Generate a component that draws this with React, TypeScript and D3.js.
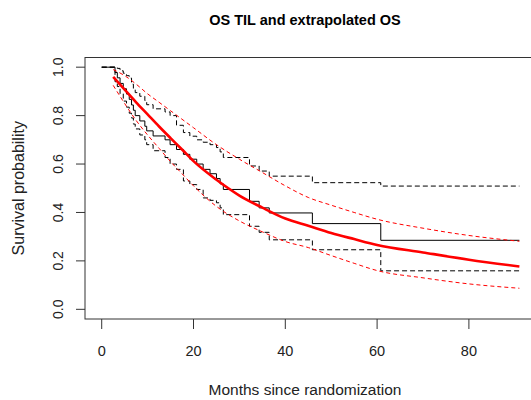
import React from "react";
import * as d3 from "d3";

const title = "OS TIL and extrapolated OS";
const xLabel = "Months since randomization";
const yLabel = "Survival probability";

const xTicks = [0, 20, 40, 60, 80];
const yTicks = [0, 0.2, 0.4, 0.6, 0.8, 1.0];

// Kaplan-Meier step curve and its confidence limits
const kmTime = [0, 2.9, 3.4, 4.0, 4.7, 5.4, 6.0, 6.5, 6.9, 7.3, 8.3, 9.4, 9.8, 11.2, 13.8, 14.9, 16.3, 17.8, 19.2, 20.7, 22.1, 23.6, 25.0, 25.8, 26.5, 32.2, 34.3, 36.5, 45.9, 60.8];
const kmSurv = [1, 0.978, 0.956, 0.933, 0.911, 0.889, 0.867, 0.844, 0.822, 0.8, 0.778, 0.756, 0.737, 0.716, 0.7, 0.68, 0.66, 0.64, 0.62, 0.6, 0.578, 0.56, 0.54, 0.518, 0.495, 0.446, 0.419, 0.398, 0.354, 0.285];
const kmUpper = [1, 1.0, 0.995, 0.985, 0.975, 0.965, 0.955, 0.93, 0.91, 0.895, 0.88, 0.862, 0.845, 0.828, 0.815, 0.8, 0.76, 0.73, 0.715, 0.7, 0.69, 0.68, 0.668, 0.65, 0.627, 0.592, 0.571, 0.55, 0.523, 0.509];
const kmLower = [1, 0.94, 0.92, 0.89, 0.86, 0.835, 0.81, 0.79, 0.765, 0.745, 0.72, 0.7, 0.68, 0.655, 0.627, 0.6, 0.578, 0.53, 0.515, 0.495, 0.46, 0.45, 0.44, 0.419, 0.391, 0.343, 0.318, 0.287, 0.246, 0.159];
const kmEnd = 91;

// Extrapolated (parametric) survival and its limits
const fitTime = [2.5, 5, 7.5, 10, 12.5, 15, 17.5, 20, 25, 30, 35, 40, 45, 50, 55, 60, 70, 80, 91];
const fitSurv = [0.96, 0.907, 0.855, 0.805, 0.755, 0.707, 0.66, 0.612, 0.535, 0.47, 0.42, 0.375, 0.345, 0.315, 0.29, 0.266, 0.235, 0.205, 0.177];
const fitUpper = [0.99, 0.965, 0.93, 0.89, 0.855, 0.82, 0.785, 0.75, 0.68, 0.62, 0.565, 0.51, 0.462, 0.43, 0.4, 0.372, 0.335, 0.305, 0.281];
const fitLower = [0.925, 0.85, 0.78, 0.72, 0.665, 0.61, 0.56, 0.51, 0.425, 0.365, 0.32, 0.28, 0.255, 0.222, 0.19, 0.16, 0.13, 0.105, 0.087];

const W = 531;
const H = 400;
const font = "'Liberation Sans', Arial, sans-serif";

export default function App() {
  const x = d3.scaleLinear().domain([-3.64, 94.64]).range([85, 536.1]);
  const y = d3.scaleLinear().domain([-0.04, 1.04]).range([319, 57.5]);

  const stepLine = d3
    .line<[number, number]>()
    .x((d) => x(d[0]))
    .y((d) => y(d[1]))
    .curve(d3.curveStepAfter);

  const smoothLine = d3
    .line<[number, number]>()
    .x((d) => x(d[0]))
    .y((d) => y(d[1]))
    .curve(d3.curveMonotoneX);

  const stepData = (vals: number[]): [number, number][] => {
    const pts: [number, number][] = kmTime.map((t, i) => [t, vals[i]]);
    pts.push([kmEnd, vals[vals.length - 1]]);
    return pts;
  };
  const fitData = (vals: number[]): [number, number][] =>
    fitTime.map((t, i) => [t, vals[i]]);

  const left = x.range()[0];
  const right = x.range()[1];
  const top = y.range()[1];
  const bottom = y.range()[0];

  return (
    <svg
      width={W}
      height={H}
      style={{ position: "absolute", left: 0, top: 0, background: "#fff" }}
      fontFamily={font}
    >
      <rect x={0} y={0} width={W} height={H} fill="#fff" />
      <text x={305} y={25} textAnchor="middle" fontWeight="bold" fontSize={14.5} fill="#000">
        {title}
      </text>

      {/* KM */}
      <path d={stepLine(stepData(kmSurv)) || ""} fill="none" stroke="#000" strokeWidth={1} />
      <path d={stepLine(stepData(kmUpper)) || ""} fill="none" stroke="#000" strokeWidth={1} strokeDasharray="5,3" />
      <path d={stepLine(stepData(kmLower)) || ""} fill="none" stroke="#000" strokeWidth={1} strokeDasharray="5,3" />

      {/* fitted */}
      <path d={smoothLine(fitData(fitUpper)) || ""} fill="none" stroke="#ff0000" strokeWidth={1} strokeDasharray="4,3" />
      <path d={smoothLine(fitData(fitLower)) || ""} fill="none" stroke="#ff0000" strokeWidth={1} strokeDasharray="4,3" />
      <path d={smoothLine(fitData(fitSurv)) || ""} fill="none" stroke="#ff0000" strokeWidth={2.6} />

      {/* box */}
      <rect x={left} y={top} width={right - left} height={bottom - top} fill="none" stroke="#333" strokeWidth={1} />

      {/* x axis */}
      {xTicks.map((t) => (
        <g key={"x" + t}>
          <line x1={x(t)} x2={x(t)} y1={bottom} y2={bottom + 10} stroke="#333" />
          <text x={x(t)} y={356} textAnchor="middle" fontSize={14.5} fill="#222">
            {t}
          </text>
        </g>
      ))}
      <text x={305} y={395} textAnchor="middle" fontSize={15.5} fill="#222">
        {xLabel}
      </text>

      {/* y axis */}
      {yTicks.map((t) => (
        <g key={"y" + t}>
          <line x1={left - 9} x2={left} y1={y(t)} y2={y(t)} stroke="#333" />
          <text
            transform={`translate(63,${y(t)}) rotate(-90)`}
            textAnchor="middle"
            fontSize={14}
            fill="#222"
          >
            {t.toFixed(1)}
          </text>
        </g>
      ))}
      <text
        transform={`translate(24,${(top + bottom) / 2}) rotate(-90)`}
        textAnchor="middle"
        fontSize={16}
        fill="#222"
      >
        {yLabel}
      </text>
    </svg>
  );
}
